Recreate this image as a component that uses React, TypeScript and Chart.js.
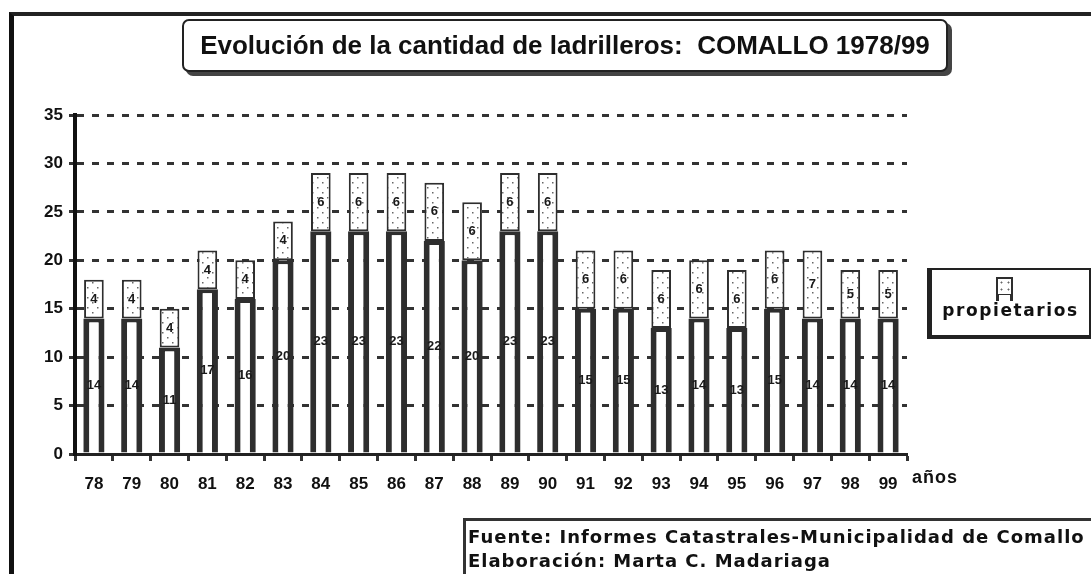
import React, { useEffect, useRef } from "react";
import { Chart, registerables } from "chart.js";

Chart.register(...registerables);

const years = ["78", "79", "80", "81", "82", "83", "84", "85", "86", "87", "88", "89", "90", "91", "92", "93", "94", "95", "96", "97", "98", "99"];
const ladrilleros = [14, 14, 11, 17, 16, 20, 23, 23, 23, 22, 20, 23, 23, 15, 15, 13, 14, 13, 15, 14, 14, 14];
const propietarios = [4, 4, 4, 4, 4, 4, 6, 6, 6, 6, 6, 6, 6, 6, 6, 6, 6, 6, 6, 7, 5, 5];
const yTicks = [0, 5, 10, 15, 20, 25, 30, 35];

const TITLE = "Evolución de la cantidad de ladrilleros:  COMALLO 1978/99";
const SOURCE1 = "Fuente: Informes Catastrales-Municipalidad de Comallo";
const SOURCE2 = "Elaboración: Marta C. Madariaga";

function makeDots(): CanvasPattern | string {
  const c = document.createElement("canvas");
  c.width = 10;
  c.height = 10;
  const g = c.getContext("2d");
  if (!g) return "#fff";
  g.fillStyle = "#ffffff";
  g.fillRect(0, 0, 10, 10);
  g.fillStyle = "#666";
  g.fillRect(2, 2, 1.5, 1.5);
  g.fillRect(7, 7, 1.5, 1.5);
  const p = g.createPattern(c, "repeat");
  return p || "#fff";
}

const labelPlugin = {
  id: "barLabels",
  afterDatasetsDraw(chart: any) {
    const ctx = chart.ctx;
    chart.data.datasets.forEach((ds: any, i: number) => {
      const meta = chart.getDatasetMeta(i);
      meta.data.forEach((bar: any, j: number) => {
        const { x, y, base } = bar.getProps(["x", "y", "base"], true);
        ctx.save();
        ctx.font = 'bold 13px "Liberation Sans", Arial, sans-serif';
        ctx.fillStyle = "#1a1a1a";
        ctx.textAlign = "center";
        ctx.textBaseline = "middle";
        ctx.fillText(String(ds.data[j]), x, (y + base) / 2);
        ctx.restore();
      });
    });
  },
};

export default function App() {
  const ref = useRef<HTMLCanvasElement | null>(null);

  useEffect(() => {
    if (!ref.current) return;
    const dots = makeDots();
    const chart = new Chart(ref.current, {
      type: "bar",
      data: {
        labels: years,
        datasets: [
          {
            label: "ladrilleros",
            data: ladrilleros,
            backgroundColor: "#ffffff",
            borderColor: "#2e2e2e",
            borderWidth: { top: 4, left: 6, right: 6, bottom: 0 },
            borderSkipped: false,
            barPercentage: 0.56,
            categoryPercentage: 1,
          },
          {
            label: "propietarios",
            data: propietarios,
            backgroundColor: dots as any,
            borderColor: "#2e2e2e",
            borderWidth: 2,
            borderSkipped: false,
            barPercentage: 0.52,
            categoryPercentage: 1,
          },
        ],
      },
      options: {
        animation: false,
        responsive: false,
        maintainAspectRatio: false,
        layout: { padding: { left: 0, top: 115, right: 184, bottom: 80 } },
        plugins: {
          legend: { display: false },
          title: { display: false },
          tooltip: { enabled: false },
        },
        scales: {
          x: {
            stacked: true,
            grid: {
              offset: true,
              drawOnChartArea: false,
              drawTicks: true,
              tickLength: 7,
              tickWidth: 3,
              tickColor: "#333",
            },
            border: { display: true, color: "#222", width: 3 },
            ticks: {
              font: { family: '"Liberation Sans", Arial, sans-serif', weight: "bold", size: 17 },
              color: "#111",
              padding: 13,
              maxRotation: 0,
              autoSkip: false,
            },
            afterFit: (s: any) => {
              s.height = 40;
            },
          },
          y: {
            stacked: true,
            min: 0,
            max: 35,
            afterBuildTicks: (s: any) => {
              s.ticks = yTicks.map((v) => ({ value: v }));
            },
            ticks: {
              font: { family: '"Liberation Sans", Arial, sans-serif', weight: "bold", size: 17 },
              color: "#111",
              padding: 6,
            },
            grid: {
              color: (c: any) => (c.tick && c.tick.value === 0 ? "rgba(0,0,0,0)" : "#333"),
              lineWidth: 3,
              drawTicks: true,
              tickLength: 6,
              tickColor: "#333",
              tickWidth: 3,
            },
            border: { display: true, color: "#111", width: 4, dash: [7, 8] },
            afterFit: (s: any) => {
              s.width = 75;
            },
          },
        },
      },
      plugins: [labelPlugin],
    });
    return () => chart.destroy();
  }, []);

  const dotBg = "radial-gradient(circle, #666 0.8px, rgba(255,255,255,0) 1.2px) 0 0 / 7px 7px, #fff";

  return (
    <div style={{ position: "absolute", left: 0, top: 0, width: 1091, height: 574, overflow: "hidden", background: "#fff" }}>
      <canvas ref={ref} width={1091} height={574} style={{ position: "absolute", left: 0, top: 0 }} />
      {/* outer frame */}
      <div style={{ position: "absolute", left: 9, top: 12, width: 1100, height: 600, borderTop: "4px solid #222", borderLeft: "5px solid #111", boxSizing: "border-box" }} />
      {/* title */}
      <div
        style={{
          position: "absolute",
          left: 182,
          top: 19,
          width: 766,
          height: 53,
          boxSizing: "border-box",
          border: "2px solid #222",
          borderRadius: 7,
          boxShadow: "4px 4px 0 #444",
          background: "#fff",
          display: "flex",
          alignItems: "center",
          justifyContent: "center",
          font: 'bold 26px "Liberation Sans", Arial, sans-serif',
          color: "#111",
          whiteSpace: "pre",
        }}
      >
        {TITLE}
      </div>
      {/* años */}
      <div style={{ position: "absolute", left: 912, top: 467, font: 'bold 18px "Liberation Sans", Arial, sans-serif', letterSpacing: 1, color: "#111" }}>años</div>
      {/* legend */}
      <div
        style={{
          position: "absolute",
          left: 927,
          top: 268,
          width: 164,
          height: 71,
          boxSizing: "border-box",
          borderTop: "2px solid #222",
          borderRight: "2px solid #222",
          borderLeft: "5px solid #222",
          borderBottom: "4px solid #222",
          background: "#fff",
        }}
      >
        <div style={{ position: "absolute", left: 64, top: 7, width: 17, height: 19, boxSizing: "border-box", border: "2px solid #2e2e2e", background: dotBg }} />
        <div style={{ position: "absolute", left: 64, top: 25, width: 17, height: 6, boxSizing: "border-box", borderLeft: "3px solid #2e2e2e", borderRight: "3px solid #2e2e2e", background: "#fff" }} />
        <div style={{ position: "absolute", left: 0, right: 0, top: 30, textAlign: "center", font: 'bold 17px "DejaVu Sans", sans-serif', letterSpacing: 1.6, color: "#111" }}>
          propietarios
        </div>
      </div>
      {/* source */}
      <div
        style={{
          position: "absolute",
          left: 463,
          top: 518,
          width: 700,
          height: 80,
          boxSizing: "border-box",
          borderTop: "3px solid #333",
          borderLeft: "3px solid #333",
          paddingLeft: 2,
          paddingTop: 4,
          font: 'bold 18px "DejaVu Sans", sans-serif',
          letterSpacing: 1,
          lineHeight: "24px",
          color: "#111",
          whiteSpace: "pre",
        }}
      >
        <div>{SOURCE1}</div>
        <div>{SOURCE2}</div>
      </div>
    </div>
  );
}
